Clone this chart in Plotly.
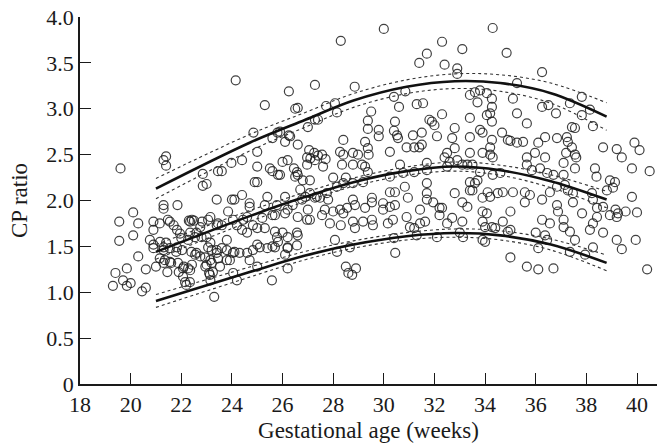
import plotly.graph_objects as go

# Observations: (gestational age in weeks, CP ratio)
obs_early = [
    (19.6, 2.35), (19.55, 1.77), (20.3, 1.75), (19.55, 1.56), (20.1, 1.62), (20.3, 1.39),
    (19.85, 1.26), (20.6, 1.25), (19.4, 1.21), (19.7, 1.13), (19.3, 1.07), (19.85, 1.07),
    (20.0, 1.10), (20.45, 1.01), (20.6, 1.05), (20.1, 1.87), (20.76, 1.57),
    (20.9, 1.68), (20.9, 1.52), (20.9, 1.48), (21.0, 1.28), (21.15, 1.37), (21.3, 1.32),
    (21.4, 1.54), (21.45, 1.22), (21.15, 1.75), (21.55, 1.77), (21.6, 1.32), (21.8, 1.44),
    (21.9, 1.22), (22.15, 1.11), (22.2, 1.08), (22.35, 1.24), (22.4, 1.44), (22.55, 1.41),
    (22.75, 1.39), (23.0, 1.30), (23.3, 0.95), (23.1, 1.21), (22.8, 1.60), (22.35, 1.77),
    (21.95, 1.64), (23.4, 1.43), (23.45, 1.75),
    (21.3, 2.44), (21.4, 2.48), (21.4, 2.38), (22.85, 2.29), (22.85, 2.16), (23.0, 2.18),
    (23.45, 2.32), (23.4, 2.01), (21.3, 1.95), (21.3, 1.91), (21.85, 1.95), (23.6, 2.32),
    (21.7, 1.73), (22.0, 1.59), (22.3, 1.78), (22.5, 1.78), (22.75, 1.71), (23.15, 1.82),
    (23.0, 1.60), (23.15, 1.54), (23.6, 1.48), (23.8, 1.57), (21.35, 1.35), (22.1, 1.28),
    (23.15, 1.35), (23.45, 1.37), (22.95, 1.28), (23.25, 1.22), (23.15, 1.13), (22.6, 1.43),
    (22.35, 1.65), (22.6, 1.65), (21.3, 1.49),
    (21.16, 1.55), (21.3, 1.46), (21.55, 1.48), (21.83, 1.49), (22.03, 1.46), (22.27, 1.57),
    (22.54, 1.60), (23.06, 1.49), (23.2, 1.46), (23.4, 1.46), (23.8, 1.46),
    (21.55, 1.33), (21.87, 1.32), (22.07, 1.26), (22.27, 1.26), (22.42, 1.30), (22.94, 1.38),
    (23.2, 1.32), (23.53, 1.28), (23.8, 1.35), (23.92, 1.35),
    (22.07, 1.17), (22.34, 1.11), (23.13, 1.19),
    (20.9, 1.77), (21.47, 1.79), (21.83, 1.68), (22.42, 1.79), (22.82, 1.77), (23.06, 1.79),
    (23.4, 1.73), (23.6, 1.73),
]

obs_mid = [
    (23.98, 2.41), (24.4, 2.44), (25.0, 2.53), (24.85, 2.74), (25.3, 3.04), (24.15, 3.31),
    (26.25, 3.19), (26.5, 3.00), (25.8, 2.74), (26.25, 2.71), (27.0, 2.80), (25.6, 2.68),
    (25.9, 2.75), (26.1, 2.64), (26.3, 2.70), (26.6, 2.61), (26.6, 3.01),
    (25.0, 2.37), (24.9, 2.20), (25.0, 2.20), (25.6, 2.32), (25.5, 2.35), (25.82, 2.28),
    (26.0, 2.42), (26.2, 2.44), (26.57, 2.31), (26.6, 2.28), (26.97, 2.47), (26.45, 2.35),
    (26.5, 2.26), (25.9, 2.28), (26.7, 2.12),
    (24.0, 2.01), (24.1, 2.01), (24.4, 2.06), (24.7, 1.97), (24.7, 1.93), (25.3, 1.95),
    (25.4, 2.04), (25.7, 1.84), (25.78, 1.95), (26.1, 2.04), (26.2, 1.90), (26.4, 1.95),
    (26.77, 2.01), (26.9, 2.04), (26.97, 1.79),
    (23.85, 1.88), (24.04, 1.79), (24.2, 1.73), (24.44, 1.79), (24.4, 1.68), (24.6, 1.65),
    (24.83, 1.73), (25.0, 1.70), (25.3, 1.70), (25.7, 1.66), (25.78, 1.60), (25.82, 1.55),
    (26.2, 1.60), (26.57, 1.65), (24.6, 1.82), (25.2, 1.81), (25.6, 1.84), (26.1, 1.86),
    (26.6, 1.82),
    (24.04, 1.43), (24.3, 1.43), (24.83, 1.46), (25.1, 1.49), (25.4, 1.48), (24.1, 1.44),
    (24.6, 1.43), (24.7, 1.35), (25.0, 1.28), (25.7, 1.49), (26.1, 1.41), (26.2, 1.48),
    (26.57, 1.51), (25.0, 1.52), (25.6, 1.50),
    (24.2, 1.13), (25.58, 1.13), (26.2, 1.26), (24.05, 1.21),
    (27.28, 3.26), (27.72, 3.03), (28.07, 3.06), (28.15, 2.96), (27.28, 2.88), (27.4, 2.88),
    (29.37, 2.87), (29.37, 2.78), (29.8, 2.77), (29.8, 2.70), (30.4, 2.76), (30.52, 2.71),
    (30.56, 2.68), (29.26, 2.64), (29.37, 2.57), (29.4, 2.50), (28.27, 2.53), (28.78, 2.52),
    (28.85, 3.24), (30.0, 3.87), (30.4, 3.13), (30.85, 3.19), (30.6, 3.02), (29.5, 2.97),
    (30.44, 2.86), (28.3, 3.74),
    (28.4, 2.66), (28.35, 2.39), (27.05, 2.55), (27.25, 2.52), (27.1, 2.46), (27.4, 2.49),
    (27.7, 2.45), (27.56, 2.50), (27.6, 2.37), (28.4, 2.50), (28.98, 2.50), (26.97, 2.39),
    (27.28, 2.44), (28.78, 2.39), (29.14, 2.39), (29.37, 2.31), (30.24, 2.26), (30.64, 2.39),
    (30.76, 2.30), (30.24, 2.53), (30.9, 2.58), (29.26, 2.37),
    (26.8, 2.22), (27.08, 2.22), (27.08, 2.08), (27.28, 2.03), (27.48, 2.03), (27.8, 2.01),
    (28.15, 2.15), (28.4, 2.19), (28.78, 2.19), (29.18, 2.20), (29.53, 2.03), (29.53, 1.98),
    (29.97, 1.97), (29.97, 1.90), (30.24, 1.93), (30.44, 1.95), (28.78, 2.01), (28.86, 1.95),
    (29.26, 1.92), (28.4, 1.86), (27.67, 1.90), (28.0, 1.88), (28.27, 1.90), (28.55, 1.92),
    (27.0, 1.90), (27.08, 1.79), (27.56, 1.84), (27.87, 1.75), (28.78, 1.77), (28.86, 1.70),
    (29.18, 1.77), (29.53, 1.79), (29.57, 1.73), (30.16, 1.75), (30.36, 1.79), (30.9, 1.82),
    (28.0, 2.25), (28.5, 2.25), (27.75, 2.08), (27.35, 2.04), (30.24, 2.09), (30.44, 2.09),
    (30.83, 2.15), (30.95, 2.03),
    (26.0, 1.65), (26.2, 1.49), (26.6, 1.62), (28.3, 1.73), (28.07, 1.57), (28.15, 1.44),
    (28.66, 1.49), (28.5, 1.28), (28.6, 1.21), (28.9, 1.26), (30.45, 1.43), (30.4, 1.59),
    (28.75, 1.19),
]

obs_late = [
    (34.3, 3.88), (32.3, 3.73), (31.7, 3.60), (31.4, 3.50), (33.1, 3.65), (34.85, 3.61),
    (32.4, 3.48), (32.9, 3.44), (32.9, 3.38), (36.25, 3.40), (35.26, 3.28), (37.82, 3.13),
    (31.3, 3.05), (31.55, 3.06), (32.3, 2.94), (33.4, 2.90),
    (33.4, 3.15), (33.6, 3.18), (33.8, 3.20), (33.7, 3.07), (34.07, 3.17), (34.27, 3.11),
    (34.27, 3.02), (34.2, 2.95), (34.07, 2.93), (34.27, 2.86), (35.1, 3.11), (35.26, 2.95),
    (35.65, 2.84), (36.25, 3.02), (36.5, 3.04), (36.8, 2.95), (37.35, 3.06), (37.82, 2.93),
    (38.14, 2.99), (37.43, 2.80), (37.55, 2.79), (38.26, 2.81),
    (32.8, 2.79), (32.7, 2.68), (32.8, 2.57), (33.4, 2.69), (33.8, 2.77), (33.9, 2.74),
    (34.27, 2.66), (34.2, 2.58), (34.67, 2.74), (34.9, 2.66), (35.0, 2.65), (35.26, 2.63),
    (35.5, 2.64), (36.1, 2.63), (36.37, 2.69), (36.84, 2.68), (37.23, 2.69), (37.27, 2.64),
    (37.43, 2.58), (38.66, 2.58), (39.2, 2.56), (39.4, 2.47), (39.9, 2.63), (40.1, 2.55),
    (39.8, 2.35), (40.5, 2.32),
    (31.9, 2.86), (32.0, 2.82), (31.15, 2.71), (31.5, 2.74), (32.1, 2.70), (31.8, 2.88),
    (32.5, 2.52), (31.2, 2.58), (31.4, 2.58), (31.5, 2.61),
    (31.7, 2.41), (31.7, 2.33), (32.4, 2.47), (32.5, 2.37), (32.6, 2.42), (32.9, 2.44),
    (31.2, 2.31), (31.7, 2.19), (31.7, 2.08), (31.7, 2.01), (31.95, 1.98), (32.2, 1.92),
    (32.2, 1.84), (32.3, 1.92), (32.5, 1.75), (32.7, 1.81), (32.8, 2.08), (31.43, 1.90),
    (31.43, 1.75), (31.63, 1.77), (31.03, 1.71), (31.2, 1.70), (32.1, 1.60), (31.3, 1.62),
    (33.4, 2.52), (33.9, 2.52), (34.2, 2.50), (34.3, 2.47), (35.65, 2.47), (35.97, 2.52),
    (36.37, 2.47), (37.2, 2.52), (37.55, 2.50), (37.6, 2.47),
    (33.1, 2.39), (33.3, 2.39), (33.5, 2.39), (33.8, 2.31), (34.3, 2.28), (34.6, 2.30),
    (35.65, 2.39), (35.85, 2.33), (36.17, 2.35), (36.45, 2.30), (36.7, 2.28), (37.1, 2.28),
    (37.55, 2.35), (38.34, 2.35), (38.4, 2.26), (38.93, 2.22), (39.13, 2.20), (37.1, 2.41),
    (33.1, 1.98), (33.3, 1.93), (33.4, 2.20), (33.6, 2.19), (33.7, 2.22), (33.4, 2.11),
    (33.5, 2.11), (33.9, 2.03), (34.2, 2.04), (34.1, 2.09), (34.5, 2.08), (34.7, 2.09),
    (35.1, 2.09), (35.57, 2.09), (35.77, 2.06), (35.57, 1.98), (36.25, 2.01), (36.56, 2.09),
    (36.84, 2.15), (37.15, 2.17), (37.27, 2.11), (37.47, 2.08), (37.47, 1.98), (37.83, 1.86),
    (38.22, 2.08), (38.26, 2.01), (38.42, 1.92), (38.66, 1.93), (38.81, 2.11), (39.05, 2.14),
    (38.93, 1.84), (39.2, 1.82), (39.25, 1.86), (39.8, 2.04), (39.55, 1.88), (39.15, 1.90),
    (40.0, 1.87),
    (33.9, 1.88), (34.07, 1.86), (33.1, 1.77), (33.9, 1.77), (34.27, 1.71), (34.4, 1.70),
    (34.7, 1.77), (35.0, 1.88), (36.25, 1.79), (36.56, 1.75), (36.84, 1.95), (36.88, 1.88),
    (37.1, 1.79), (37.1, 1.71), (37.35, 1.66), (37.55, 1.57), (38.14, 1.68), (38.26, 1.75),
    (38.42, 1.82), (38.66, 1.65), (39.2, 1.57), (38.26, 1.49),
    (33.0, 1.65), (33.13, 1.60), (33.9, 1.57), (34.9, 1.66), (36.0, 1.65), (36.37, 1.62),
    (36.45, 1.57), (36.1, 1.48), (37.35, 1.44), (37.95, 1.41), (35.0, 1.38), (35.65, 1.28),
    (36.1, 1.25), (36.7, 1.26), (39.4, 1.47), (39.95, 1.57), (40.4, 1.25), (34.0, 1.55),
    (35.0, 1.68), (34.0, 1.71),
]

# Fitted reference centiles and their confidence half-widths
curve_weeks = [21.0, 24.7, 26.9, 28.8, 30.9, 32.8, 34.6, 36.6, 38.8]
centile_upper = [2.13, 2.63, 2.88, 3.09, 3.24, 3.30, 3.28, 3.17, 2.915]
centile_mid = [1.44, 1.83, 2.04, 2.20, 2.32, 2.37, 2.33, 2.21, 2.01]
centile_low = [0.905, 1.22, 1.40, 1.52, 1.61, 1.645, 1.62, 1.52, 1.32]
ci_upper = [0.11, 0.09, 0.08, 0.075, 0.075, 0.08, 0.09, 0.11, 0.15]
ci_mid = [0.08, 0.06, 0.05, 0.045, 0.045, 0.05, 0.055, 0.07, 0.09]
ci_low = [0.07, 0.055, 0.045, 0.04, 0.04, 0.045, 0.05, 0.06, 0.085]

x_ticks = [18, 20, 22, 24, 26, 28, 30, 32, 34, 36, 38, 40]
y_ticks = [0, 0.5, 1.0, 1.5, 2.0, 2.5, 3.0, 3.5, 4.0]
y_tick_text = ["0", "0.5", "1.0", "1.5", "2.0", "2.5", "3.0", "3.5", "4.0"]

FONT = "Liberation Serif"
INK = "#1a1a1a"

points = obs_early + obs_mid + obs_late
fig = go.Figure()
fig.add_trace(go.Scatter(
    x=[p[0] for p in points], y=[p[1] for p in points], mode="markers",
    marker=dict(symbol="circle-open", size=9, color="rgba(30,30,30,0.85)",
                line=dict(width=1.2)),
    hoverinfo="skip", showlegend=False,
))

for centile, half in ((centile_upper, ci_upper), (centile_mid, ci_mid), (centile_low, ci_low)):
    for sign in (1, -1):
        fig.add_trace(go.Scatter(
            x=curve_weeks, y=[c + sign * h for c, h in zip(centile, half)],
            mode="lines", line=dict(color="#333333", width=1.1, dash="dot", shape="spline"),
            hoverinfo="skip", showlegend=False,
        ))
    fig.add_trace(go.Scatter(
        x=curve_weeks, y=centile, mode="lines",
        line=dict(color="#111111", width=2.6, shape="spline"),
        hoverinfo="skip", showlegend=False,
    ))

fig.update_layout(
    width=657, height=448,
    margin=dict(l=80, r=0, t=17, b=64),
    paper_bgcolor="white", plot_bgcolor="white",
    font=dict(family=FONT, size=22, color=INK),
    xaxis=dict(
        range=[18, 40.79], tickvals=x_ticks, ticktext=[str(v) for v in x_ticks],
        ticks="inside", ticklen=11, tickwidth=1.3, tickcolor=INK,
        showline=True, linecolor=INK, linewidth=1.5, showgrid=False, zeroline=False,
        tickfont=dict(family=FONT, size=22, color=INK),
        title=dict(text="Gestational age (weeks)", standoff=6,
                   font=dict(family=FONT, size=23, color=INK)),
    ),
    yaxis=dict(
        range=[0, 4.0], tickvals=y_ticks, ticktext=y_tick_text,
        ticks="inside", ticklen=11, tickwidth=1.3, tickcolor=INK,
        showline=True, linecolor=INK, linewidth=1.5, showgrid=False, zeroline=False,
        tickfont=dict(family=FONT, size=22, color=INK),
        title=dict(text="CP ratio", standoff=12,
                   font=dict(family=FONT, size=23, color=INK)),
    ),
)

fig.write_html("out.html")
